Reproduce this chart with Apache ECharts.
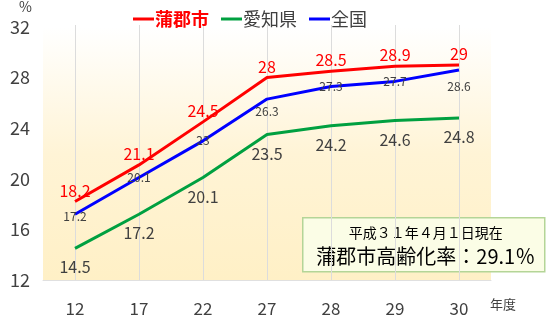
<!DOCTYPE html>
<html><head><meta charset="utf-8">
<script src="https://cdn.jsdelivr.net/npm/echarts@6/dist/echarts.min.js"></script>
<style>html,body{margin:0;padding:0;background:#fff}#c{width:550px;height:317px}</style>
</head><body><div id="c"></div>
<script>
const categories = ['12','17','22','27','28','29','30'];
const gamagori = [18.2, 21.1, 24.5, 28, 28.5, 28.9, 29];
const aichi = [14.5, 17.2, 20.1, 23.5, 24.2, 24.6, 24.8];
const zenkoku = [17.2, 20.1, 23, 26.3, 27.3, 27.7, 28.6];
const yTicks = [12, 16, 20, 24, 28, 32];
const seriesNames = ['蒲郡市', '愛知県', '全国'];
const noteLine1 = '平成３１年４月１日現在';
const noteLine2 = '蒲郡市高齢化率：29.1％';

// label vertical nudges for the national series (style only)
const zenkokuLabelDy = [2, 0, 0, 12, 0, 0, 16];

const FONT = '"Noto Sans CJK JP", "Noto Sans", sans-serif';
const GRAY = '#404040';
const chart = echarts.init(document.getElementById('c'), null, {renderer: 'canvas'});

const option = {
  animation: false,
  textStyle: {fontFamily: FONT},
  grid: {
    left: 43, right: 59, top: 27, bottom: 35, show: true, borderWidth: 0,
    backgroundColor: new echarts.graphic.LinearGradient(0, 0, 0, 1, [
      {offset: 0, color: '#FFFFFF'},
      {offset: 0.5, color: '#FFF4D6'},
      {offset: 1, color: '#FFF0C6'}
    ])
  },
  legend: {
    left: 128, top: 5, itemWidth: 21, itemHeight: 3, itemGap: 12, icon: 'rect',
    textStyle: {fontSize: 18, color: GRAY, fontFamily: FONT, padding: [0, 0, 0, -4]},
    data: [
      {name: seriesNames[0], textStyle: {color: '#FF0000', fontWeight: 'bold'}},
      {name: seriesNames[1]},
      {name: seriesNames[2]}
    ]
  },
  xAxis: {
    type: 'category', data: categories, boundaryGap: true,
    axisLine: {show: true, lineStyle: {color: '#E0E0E0'}},
    axisTick: {show: true, alignWithLabel: true, inside: true, length: 255, lineStyle: {color: '#DCDCDC'}},
    axisLabel: {fontSize: 17, color: GRAY, margin: 20, fontFamily: FONT},
    splitLine: {show: false}
  },
  yAxis: {
    type: 'value', min: 12, max: 32, interval: 4,
    axisLine: {show: false}, axisTick: {show: false}, splitLine: {show: false},
    axisLabel: {fontSize: 18, color: GRAY, margin: 13, fontFamily: FONT,
      formatter: v => yTicks.includes(v) ? String(v) : ''}
  },
  series: [
    {
      name: seriesNames[0], type: 'line', data: gamagori, color: '#FF0000',
      symbol: 'circle', symbolSize: 0, showSymbol: true,
      lineStyle: {width: 3, color: '#FF0000'},
      label: {show: true, position: 'top', distance: 3, fontSize: 16, color: '#FF0000', fontFamily: FONT},
      z: 4
    },
    {
      name: seriesNames[1], type: 'line', data: aichi, color: '#00A040',
      symbol: 'circle', symbolSize: 0, showSymbol: true,
      lineStyle: {width: 3, color: '#00A040'},
      label: {show: true, position: 'bottom', distance: 11, fontSize: 16, color: GRAY, fontFamily: FONT},
      z: 2
    },
    {
      name: seriesNames[2], type: 'line', color: '#0000FF',
      data: zenkoku.map((v, i) => ({value: v, label: {offset: [0, zenkokuLabelDy[i]]}})),
      symbol: 'circle', symbolSize: 0, showSymbol: true,
      lineStyle: {width: 3, color: '#0000FF'},
      label: {show: true, position: 'inside', fontSize: 12, color: GRAY, fontFamily: FONT},
      z: 3
    }
  ],
  graphic: [
    {type: 'text', left: 19, top: 0, style: {text: '%', fill: GRAY, font: '14px ' + FONT}},
    {type: 'text', left: 490, top: 298, style: {text: '年度', fill: GRAY, font: '13px ' + FONT}},
    {
      type: 'group', left: 302, top: 217,
      children: [
        {type: 'rect', shape: {x: 0, y: 0, width: 242, height: 54},
          style: {fill: '#FBFDE6', stroke: '#B4D597', lineWidth: 1.5}},
        {type: 'text', x: 123, y: 15, style: {text: noteLine1, font: '14px ' + FONT, fill: '#000', align: 'center', verticalAlign: 'middle'}},
        {type: 'text', x: 123, y: 39, style: {text: noteLine2, font: '20px ' + FONT, fill: '#000', align: 'center', verticalAlign: 'middle'}}
      ]
    }
  ]
};
chart.setOption(option);
</script></body></html>
